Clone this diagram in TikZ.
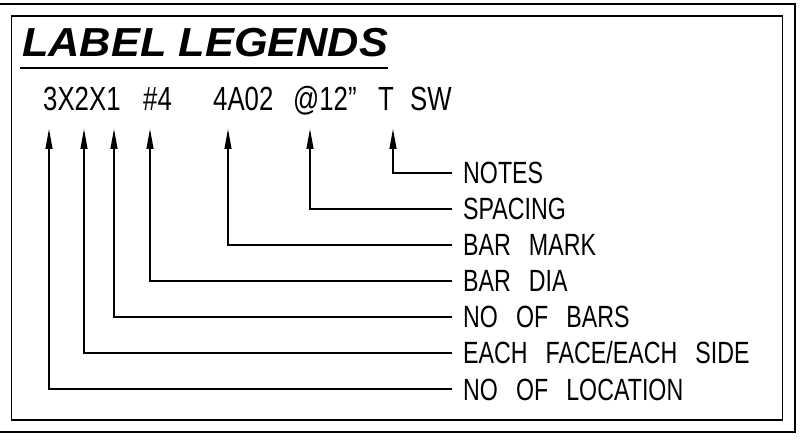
\documentclass[tikz,border=0pt]{standalone}
\usepackage{fontspec}
\usepackage{graphicx}
\usetikzlibrary{arrows.meta}
\setmainfont{Liberation Sans}
\newfontfamily\cadfont[FakeStretch=0.756,WordSpace=2.8]{Liberation Sans}
\newfontfamily\topfont[FakeStretch=0.77,WordSpace=2.8]{Liberation Sans}
\newfontfamily\titlefont{Liberation Sans}
\tikzset{
  frameline/.style={line width=1.6pt, black},
  conn/.style={line width=1.2pt, black, -{Triangle[length=20pt,width=7pt]}},
  legendtxt/.style={anchor=west, inner xsep=11pt, inner ysep=0pt, text height=22pt, text depth=0pt, font=\cadfont\fontsize{30.7}{30.7}\selectfont},
  toptxt/.style={anchor=base west, inner sep=0pt, font=\topfont\fontsize{33.5}{33.5}\selectfont},
}
\begin{document}
\begin{tikzpicture}[x=1pt,y=-1pt]
\useasboundingbox (0,0) rectangle (809,446);
% frames
\draw[frameline] (0,4) -- (795,4) -- (795,432) -- (0,432);
\draw[frameline] (11.5,16) rectangle (782.5,420);
% title
\node[anchor=base west, inner sep=0pt, font=\titlefont\bfseries\itshape\fontsize{40.5}{40.5}\selectfont] (title) at (22,57) {\scalebox{1.07}[1]{LABEL LEGENDS}};
\draw[line width=1.6pt] (20,68) -- (388,68);
% label line
\node[toptxt] (s1) at (43,111) {3X2X1};
\node[toptxt] (s2) at (143,111) {\#4};
\node[toptxt] (s3) at (213,111) {4A02};
\node[toptxt] (s4) at (293,111) {@12”};
\node[toptxt] (s5) at (378,111) {T};
\node[toptxt] (s6) at (410,111) {SW};
% arrow tips
\coordinate (t1) at (49,129);
\coordinate (t2) at (84,129);
\coordinate (t3) at (114,129);
\coordinate (t4) at (150,129);
\coordinate (t5) at (228,129);
\coordinate (t6) at (310,129);
\coordinate (t7) at (393,129);
% legend entries
\node[legendtxt] (l7) at (452,173) {NOTES};
\node[legendtxt] (l6) at (452,209) {SPACING};
\node[legendtxt] (l5) at (452,245) {BAR MARK};
\node[legendtxt] (l4) at (452,281) {BAR DIA};
\node[legendtxt] (l3) at (452,317) {NO OF BARS};
\node[legendtxt] (l2) at (452,353) {EACH FACE/EACH SIDE};
\node[legendtxt] (l1) at (452,389) {NO OF LOCATION};
% connectors
\draw[conn] (l7.west) -| (t7);
\draw[conn] (l6.west) -| (t6);
\draw[conn] (l5.west) -| (t5);
\draw[conn] (l4.west) -| (t4);
\draw[conn] (l3.west) -| (t3);
\draw[conn] (l2.west) -| (t2);
\draw[conn] (l1.west) -| (t1);
\end{tikzpicture}
\end{document}
